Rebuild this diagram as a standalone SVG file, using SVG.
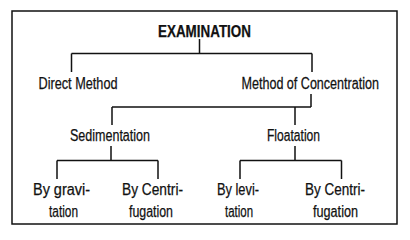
<svg xmlns="http://www.w3.org/2000/svg" width="410" height="240" viewBox="0 0 410 240">
<style>
text{font-family:"Liberation Sans",Arial,sans-serif;font-size:16px;fill:#111;stroke:#111;stroke-width:0.25}
.t{font-weight:bold;font-size:16.5px}
.c{fill:none;stroke:#111;stroke-width:1.5}
</style>
<rect x="0" y="0" width="410" height="240" fill="#fff"/>
<rect x="12" y="11" width="385" height="213" class="c"/>
<g id="connectors" class="c">
<path d="M199.5 39V53.5M71.5 53.5H312M71.5 53.5V72M312 53.5V72"/>
<path d="M311 94V107M112 107H311M112 107V125M295 107V125"/>
<path d="M111 146V160.5M57 160.5H158M57 160.5V179M158 160.5V179"/>
<path d="M295 146V160.5M240 160.5H341.5M240 160.5V179M341.5 160.5V179"/>
</g>
<g id="examination"><text class="t" x="158" y="36.5" textLength="93" lengthAdjust="spacingAndGlyphs">EXAMINATION</text></g>
<g id="direct"><text x="38.5" y="88.5" textLength="79" lengthAdjust="spacingAndGlyphs">Direct Method</text></g>
<g id="concentration"><text transform="translate(241.5 88.5) scale(0.75 1)" x="0" y="0" textLength="183.3" lengthAdjust="spacingAndGlyphs">Method of Concentration</text></g>
<g id="sedimentation"><text x="70" y="140.5" textLength="80" lengthAdjust="spacingAndGlyphs">Sedimentation</text></g>
<g id="floatation"><text x="267" y="140.5" textLength="53" lengthAdjust="spacingAndGlyphs">Floatation</text></g>
<g id="gravitation"><text x="33" y="194.5" textLength="57" lengthAdjust="spacingAndGlyphs">By gravi-</text><text x="49" y="216.5" textLength="29" lengthAdjust="spacingAndGlyphs">tation</text></g>
<g id="centrifugation1"><text x="122" y="194.5" textLength="61" lengthAdjust="spacingAndGlyphs">By Centri-</text><text x="129" y="216.5" textLength="44" lengthAdjust="spacingAndGlyphs">fugation</text></g>
<g id="levitation"><text x="217" y="194.5" textLength="42" lengthAdjust="spacingAndGlyphs">By levi-</text><text x="225" y="216.5" textLength="28" lengthAdjust="spacingAndGlyphs">tation</text></g>
<g id="centrifugation2"><text x="305" y="194.5" textLength="60" lengthAdjust="spacingAndGlyphs">By Centri-</text><text x="313" y="216.5" textLength="45" lengthAdjust="spacingAndGlyphs">fugation</text></g>
</svg>
